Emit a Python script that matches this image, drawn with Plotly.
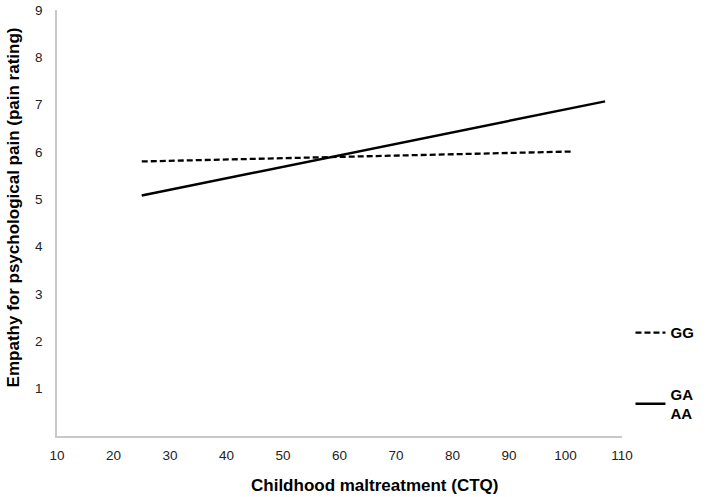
import plotly.graph_objects as go

x_gg = [25, 101]
y_gg = [5.8, 6.01]
x_ga = [25, 107]
y_ga = [5.08, 7.07]
x_ticks = [10, 20, 30, 40, 50, 60, 70, 80, 90, 100, 110]
y_ticks = [1, 2, 3, 4, 5, 6, 7, 8, 9]

FONT = "Liberation Sans, Arial, sans-serif"

fig = go.Figure()
fig.add_trace(go.Scatter(x=x_gg, y=y_gg, mode="lines", name="<b>GG</b>", legendgroup="a",
                         line=dict(color="black", width=2.3, dash="6px,3px")))
fig.add_trace(go.Scatter(x=x_ga, y=y_ga, mode="lines", name="<b>GA<br>AA</b>", legendgroup="b",
                         line=dict(color="black", width=2.5)))

fig.update_layout(
    width=709, height=497,
    margin=dict(l=57, r=82, t=10, b=61),
    plot_bgcolor="white", paper_bgcolor="white",
    font=dict(family=FONT, color="#222"),
    xaxis=dict(range=[10, 110], tickvals=x_ticks, showgrid=False, zeroline=False,
               showline=True, linecolor="#c8c8c8", linewidth=1.5, automargin=False,
               ticks="outside", ticklen=6, tickcolor="rgba(0,0,0,0)",
               tickfont=dict(size=13.5, color="#222")),
    yaxis=dict(range=[0, 9], tickvals=y_ticks, showgrid=False, zeroline=False,
               showline=True, linecolor="#c8c8c8", linewidth=1.5, automargin=False,
               ticks="outside", ticklen=10, tickcolor="rgba(0,0,0,0)",
               tickfont=dict(size=13.5, color="#222")),
    legend=dict(x=1.015, y=0.281, xanchor="left", yanchor="top", traceorder="grouped",
                tracegroupgap=39, font=dict(size=15, color="black", family=FONT),
                bgcolor="rgba(0,0,0,0)"),
    annotations=[
        dict(text="<b>Childhood maltreatment (CTQ)</b>", xref="paper", yref="paper",
             x=(377 - 57) / 570, y=-(485 - 436) / 426, xanchor="center", yanchor="middle",
             showarrow=False, font=dict(size=17, color="black", family=FONT)),
        dict(text="<b>Empathy for psychological pain (pain rating)</b>", xref="paper", yref="paper",
             x=-(57 - 13) / 570, y=(436 - 207) / 426, xanchor="center", yanchor="middle",
             textangle=-90, showarrow=False, font=dict(size=17, color="black", family=FONT)),
    ],
)

fig.write_html("out.html", config={"displayModeBar": False},
               post_script="document.body.style.margin='0px';document.body.style.padding='0px';")
